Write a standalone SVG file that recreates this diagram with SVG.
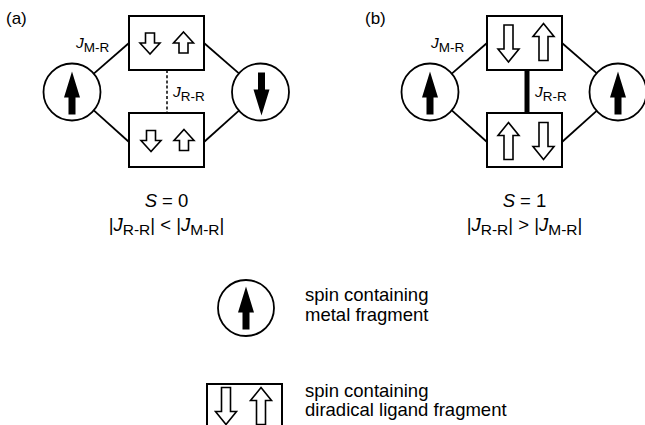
<svg xmlns="http://www.w3.org/2000/svg" width="645" height="425" viewBox="0 0 645 425">
  <style>
    text { font-family: "Liberation Sans", Arial, Helvetica, sans-serif; fill: #000; }
    .lbl { font-size: 17px; }
    .it { font-style: italic; }
    .jl { font-size: 15.5px; }
    .sub { font-size: 13.5px; }
    .big { font-size: 18.5px; }
    .fsub { font-size: 15.5px; }
    .metal { fill: #fff; stroke: #000; stroke-width: 1.8; }
    .frag { fill: #fff; stroke: #000; stroke-width: 2; }
    .hollow { fill: #fff; stroke: #000; stroke-width: 1.6; stroke-linejoin: miter; }
    .link { stroke: #000; stroke-width: 1.8; fill: none; }
  </style>
  <defs>
    <!-- solid spin arrow of a metal fragment, pointing up, centred on 0,0 -->
    <path id="spinSolid" d="M0,-21.5 L8,4.5 L3.5,4.5 L3.5,21.5 L-3.5,21.5 L-3.5,4.5 L-8,4.5 Z" fill="#000"/>
    <!-- short hollow arrow (weak radical spin), pointing up -->
    <path id="shortUp" class="hollow" d="M0,-10.5 L10,0.5 L4.5,0.5 L4.5,10.5 L-4.5,10.5 L-4.5,0.5 L-10,0.5 Z"/>
    <!-- long hollow arrow (strong radical spin), pointing up -->
    <path id="longUp" class="hollow" d="M0,-18.5 L10.5,-5.5 L4.5,-5.5 L4.5,18.5 L-4.5,18.5 L-4.5,-5.5 L-10.5,-5.5 Z"/>
  </defs>

  <!-- panel labels -->
  <text class="lbl" x="6" y="24">(a)</text>
  <text class="lbl" x="365" y="24">(b)</text>

  <!-- connectors -->
  <g id="connectors">
    <!-- panel (a) -->
    <line class="link" x1="93.8" y1="73.6" x2="129" y2="43"/>
    <line class="link" x1="93.8" y1="110.4" x2="129" y2="142"/>
    <line class="link" x1="204" y1="43" x2="239.2" y2="73.6"/>
    <line class="link" x1="204" y1="142" x2="239.2" y2="110.4"/>
    <line x1="167" y1="70" x2="167" y2="113" stroke="#000" stroke-width="1.5" stroke-dasharray="3,2.2"/>
    <!-- panel (b) -->
    <line class="link" x1="451.8" y1="73.6" x2="487" y2="43"/>
    <line class="link" x1="451.8" y1="110.4" x2="487" y2="142"/>
    <line class="link" x1="562" y1="43" x2="597.2" y2="73.6"/>
    <line class="link" x1="562" y1="142" x2="597.2" y2="110.4"/>
    <line x1="527" y1="70" x2="527" y2="113" stroke="#000" stroke-width="5"/>
  </g>

  <!-- panel (a) nodes -->
  <g id="a-metal-left">
    <circle class="metal" cx="72" cy="92" r="28.5"/>
    <use href="#spinSolid" x="72" y="93"/>
  </g>
  <g id="a-metal-right">
    <circle class="metal" cx="260.5" cy="92" r="28.5"/>
    <use href="#spinSolid" transform="translate(261.5,94) rotate(180)"/>
  </g>
  <g id="a-ligand-top">
    <rect class="frag" x="129" y="16" width="75" height="54"/>
    <use href="#shortUp" transform="translate(150,43.5) rotate(180)"/>
    <use href="#shortUp" x="183.5" y="42.5"/>
  </g>
  <g id="a-ligand-bottom">
    <rect class="frag" x="129" y="113" width="75" height="54"/>
    <use href="#shortUp" transform="translate(151,141) rotate(180)"/>
    <use href="#shortUp" x="184" y="140"/>
  </g>
  <text class="jl" x="76" y="48"><tspan class="it">J</tspan><tspan class="sub" dy="4">M-R</tspan></text>
  <text class="jl" x="173" y="97"><tspan class="it">J</tspan><tspan class="sub" dy="4">R-R</tspan></text>
  <text class="big" x="166.5" y="207" text-anchor="middle"><tspan class="it">S</tspan> = 0</text>
  <text class="big" x="166.5" y="231" text-anchor="middle">|<tspan class="it">J</tspan><tspan class="fsub" dy="4">R-R</tspan><tspan dy="-4">| &lt; |</tspan><tspan class="it">J</tspan><tspan class="fsub" dy="4">M-R</tspan><tspan dy="-4">|</tspan></text>

  <!-- panel (b) nodes -->
  <g id="b-metal-left">
    <circle class="metal" cx="430" cy="92" r="28.5"/>
    <use href="#spinSolid" x="430" y="93"/>
  </g>
  <g id="b-metal-right">
    <circle class="metal" cx="618" cy="92" r="28.5"/>
    <use href="#spinSolid" x="618" y="93"/>
  </g>
  <g id="b-ligand-top">
    <rect class="frag" x="487" y="16" width="75" height="54"/>
    <use href="#longUp" transform="translate(508.5,43.5) rotate(180)"/>
    <use href="#longUp" x="543.5" y="42"/>
  </g>
  <g id="b-ligand-bottom">
    <rect class="frag" x="487" y="113" width="75" height="54"/>
    <use href="#longUp" x="508.5" y="141"/>
    <use href="#longUp" transform="translate(543.5,141) rotate(180)"/>
  </g>
  <text class="jl" x="431" y="48"><tspan class="it">J</tspan><tspan class="sub" dy="4">M-R</tspan></text>
  <text class="jl" x="535" y="97"><tspan class="it">J</tspan><tspan class="sub" dy="4">R-R</tspan></text>
  <text class="big" x="524.5" y="207" text-anchor="middle"><tspan class="it">S</tspan> = 1</text>
  <text class="big" x="524.5" y="231" text-anchor="middle">|<tspan class="it">J</tspan><tspan class="fsub" dy="4">R-R</tspan><tspan dy="-4">| &gt; |</tspan><tspan class="it">J</tspan><tspan class="fsub" dy="4">M-R</tspan><tspan dy="-4">|</tspan></text>

  <!-- legend -->
  <g id="legend-metal">
    <circle class="metal" cx="246" cy="308" r="28"/>
    <use href="#spinSolid" x="246" y="308"/>
    <text class="big" x="305" y="301">spin containing</text>
    <text class="big" x="305" y="321">metal fragment</text>
  </g>
  <g id="legend-ligand">
    <rect class="frag" x="207" y="384" width="75" height="60"/>
    <use href="#longUp" transform="translate(226,406) rotate(180)"/>
    <use href="#longUp" x="261" y="406"/>
    <text class="big" x="305" y="397">spin containing</text>
    <text class="big" x="305" y="416">diradical ligand fragment</text>
  </g>
</svg>
